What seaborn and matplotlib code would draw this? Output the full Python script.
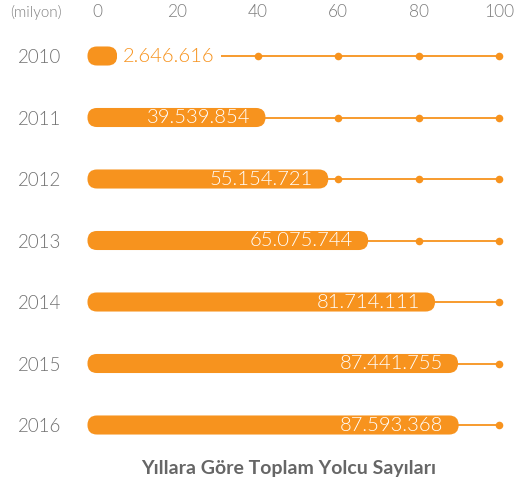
import matplotlib
matplotlib.use("Agg")
import matplotlib.pyplot as plt
from matplotlib.patches import FancyBboxPatch
import seaborn as sns
import pandas as pd

# Yearly total passenger counts
years = ["2010", "2011", "2012", "2013", "2014", "2015", "2016"]
passengers = [2646616, 39539854, 55154721, 65075744, 81714111, 87441755, 87593368]
axis_ticks = [0, 20, 40, 60, 80, 100]
unit_label = "(milyon)"
title = "Yıllara Göre Toplam Yolcu Sayıları"

ORANGE = "#F7931E"
GRAY = "#707070"
THIN = 300

sns.set_style("white")
plt.rcParams["font.family"] = ["Lato", "DejaVu Sans"]

df = pd.DataFrame({"year": years, "millions": [p / 1e6 for p in passengers]})

W, H, DPI = 516, 490, 100
fig = plt.figure(figsize=(W / DPI, H / DPI), dpi=DPI)
ax_left, ax_right = 97, 499
row_gap = 61.5
ax_top = 56 - row_gap / 2
ax_h = row_gap * len(years)
ax = fig.add_axes([ax_left / W, (H - ax_top - ax_h) / H, (ax_right - ax_left) / W, ax_h / H])

bar_w = 0.31
sns.barplot(data=df, x="millions", y="year", orient="h", color=ORANGE,
            width=bar_w, saturation=1, ax=ax, zorder=3)
ax.set_xlim(0, 100)
ax.set_ylim(len(years) - 0.5, -0.5)

# pixel scale of each data unit
px_x = (ax_right - ax_left) / 100
px_y = row_gap
aspect = px_x / px_y

# swap the flat bars for pill-shaped ones with round caps
bars = list(ax.patches)
for p in bars:
    x, y, w, h = p.get_x(), p.get_y(), p.get_width(), p.get_height()
    r = (h / 2) / aspect  # cap radius in x units
    p.remove()
    pill = FancyBboxPatch((x - r, y), w + 2 * r, h,
                          boxstyle=f"round,pad=0,rounding_size={r}",
                          mutation_aspect=aspect, facecolor=ORANGE,
                          edgecolor="none", zorder=3, clip_on=False)
    ax.add_patch(pill)

# guide line with dots at each tick for every row
for i in range(len(years)):
    ax.plot([0, 100], [i, i], color=ORANGE, lw=1.3, zorder=1, clip_on=False)
dots = pd.DataFrame([(t, i) for i in range(len(years)) for t in axis_ticks[1:]],
                    columns=["x", "row"])
sns.scatterplot(data=dots, x="x", y="row", color=ORANGE, s=30, linewidth=0,
                zorder=2, clip_on=False, ax=ax)

# value labels
for i, (val, n) in enumerate(zip(df["millions"], passengers)):
    label = f"{n:,}".replace(",", ".")
    if val < 10:
        ax.annotate(label, (val, i), xytext=(11, 0), textcoords="offset points",
                    ha="left", va="center", color=ORANGE, fontsize=14.5,
                    fontweight=THIN, zorder=4,
                    bbox=dict(boxstyle="square,pad=0.3", fc="white", ec="none"))
    else:
        ax.annotate(label, (val, i), xytext=(-4, 0), textcoords="offset points",
                    ha="right", va="center", color="white", fontsize=14.5,
                    fontweight=THIN, zorder=4)

ax.xaxis.tick_top()
ax.set_xticks(axis_ticks)
ax.set_xticklabels([str(t) for t in axis_ticks])
ax.tick_params(axis="x", length=0, pad=3.5, labelsize=12.5, labelcolor="#7e7e7e")
ax.tick_params(axis="y", length=0, pad=26, labelsize=13.5, labelcolor=GRAY)
for lab in ax.get_xticklabels() + ax.get_yticklabels():
    lab.set_fontweight(THIN)
ax.set_xlabel("")
ax.set_ylabel("")
for s in ax.spines.values():
    s.set_visible(False)

fig.text(36 / W, 1 - 12 / H, unit_label, ha="center", va="center",
         fontsize=11, color="#7e7e7e", fontweight=THIN)
fig.text(289 / W, 1 - 468 / H, title, ha="center", va="center",
         fontsize=14, color="#666666", fontweight="bold")

fig.savefig("out.png", dpi=DPI, facecolor="white")
